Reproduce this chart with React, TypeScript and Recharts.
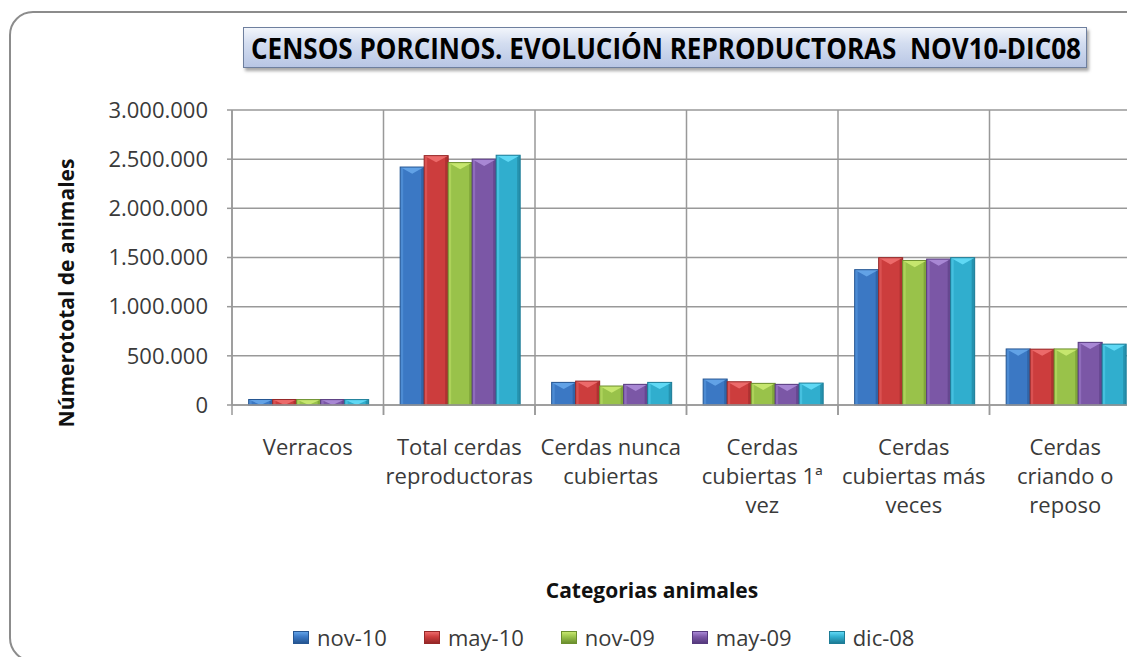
import { BarChart, Bar, XAxis, YAxis, CartesianGrid } from "recharts";

const categories = [
  "Verracos",
  "Total cerdas reproductoras",
  "Cerdas nunca cubiertas",
  "Cerdas cubiertas 1ª vez",
  "Cerdas cubiertas más veces",
  "Cerdas criando o reposo",
];

// wrapped tick labels, one array of lines per category
const categoryLines = [
  ["Verracos"],
  ["Total cerdas", "reproductoras"],
  ["Cerdas nunca", "cubiertas"],
  ["Cerdas", "cubiertas 1ª", "vez"],
  ["Cerdas", "cubiertas más", "veces"],
  ["Cerdas", "criando o", "reposo"],
];

const nov10 = [56000, 2420000, 230000, 264000, 1376000, 570000];
const may10 = [56000, 2536000, 243000, 236000, 1498000, 568000];
const nov09 = [55000, 2465000, 193000, 220000, 1470000, 570000];
const may09 = [55000, 2500000, 210000, 210000, 1484000, 637000];
const dic08 = [55000, 2540000, 230000, 223000, 1498000, 619000];

const yTicks = [0, 500000, 1000000, 1500000, 2000000, 2500000, 3000000];

const series = [
  { key: "nov-10", values: nov10, base: "#3b78c4", light: "#62a2e6", dark: "#265692" },
  { key: "may-10", values: may10, base: "#cc3d3d", light: "#ec6a6a", dark: "#962828" },
  { key: "nov-09", values: nov09, base: "#99c24a", light: "#c6e66e", dark: "#6c8f2e" },
  { key: "may-09", values: may09, base: "#7b57a6", light: "#a887d4", dark: "#563a7e" },
  { key: "dic-08", values: dic08, base: "#30aece", light: "#5fd8f4", dark: "#1d7c96" },
];

const data = categories.map((name, i) => {
  const row: Record<string, any> = { name, idx: i };
  series.forEach((s) => (row[s.key] = s.values[i]));
  return row;
});

const FONT = "'Open Sans', sans-serif";
const CHART_W = 1200;
const PLOT_LEFT = 232;
const PLOT_RIGHT = 1141;
const BAND = (PLOT_RIGHT - PLOT_LEFT) / categories.length;
const GRID = "#999999";

const fmt = (v: number) => String(v).replace(/\B(?=(\d{3})+(?!\d))/g, ".");

const makeShape = (s: typeof series[number]) => (props: any) => {
  const { x, y, width, height } = props;
  if (!height || height <= 0) return <g />;
  const tip = Math.min(width * 0.28, height);
  return (
    <g>
      <rect x={x} y={y} width={width} height={height} fill={s.base} />
      <rect x={x} y={y} width={3} height={height} fill={s.light} opacity={0.45} />
      <rect x={x + width - 3} y={y} width={3} height={height} fill={s.dark} opacity={0.55} />
      <polygon
        points={`${x},${y} ${x + width},${y} ${x + width / 2},${y + tip}`}
        fill={s.light}
      />
      <rect x={x} y={y} width={width} height={height} fill="none" stroke={s.dark} strokeWidth={1} />
    </g>
  );
};

const CategoryTick = (props: any) => {
  const { x, y, payload } = props;
  const lines = categoryLines[payload.index] || [payload.value];
  return (
    <g>
      <line x1={x - BAND / 2} y1={y} x2={x - BAND / 2} y2={y + 10} stroke={GRID} strokeWidth={1.5} />
      <line x1={x + BAND / 2} y1={y} x2={x + BAND / 2} y2={y + 10} stroke={GRID} strokeWidth={1.5} />
      {lines.map((l: string, i: number) => (
        <text
          key={i}
          x={x}
          y={y + 50 + i * 29}
          textAnchor="middle"
          fontFamily={FONT}
          fontSize={22}
          fill="#3a3a3a"
        >
          {l}
        </text>
      ))}
    </g>
  );
};

const Legend = () => (
  <div
    style={{
      position: "absolute",
      left: 293,
      top: 622,
      display: "flex",
      alignItems: "center",
      fontFamily: FONT,
      fontSize: 22,
      color: "#3a3a3a",
    }}
  >
    {series.map((s) => (
      <div key={s.key} style={{ display: "flex", alignItems: "center", marginRight: 37 }}>
        <div
          style={{
            width: 16,
            height: 13,
            marginRight: 8,
            background: `linear-gradient(to bottom, ${s.light} 0%, ${s.base} 45%, ${s.dark} 100%)`,
            border: `1px solid ${s.dark}`,
            boxSizing: "border-box",
          }}
        />
        <span>{s.key}</span>
      </div>
    ))}
  </div>
);

export default function App() {
  return (
    <div
      style={{
        position: "fixed",
        left: 0,
        top: 0,
        width: 1127,
        height: 657,
        overflow: "hidden",
        background: "#fff",
      }}
    >
      <div
        style={{
          position: "absolute",
          left: 9,
          top: 11,
          width: 1300,
          height: 651,
          border: "2px solid #8c8c8c",
          borderRadius: 24,
          boxSizing: "border-box",
        }}
      />
      <div style={{ position: "absolute", left: 0, top: 0 }}>
        <BarChart
          width={CHART_W}
          height={657}
          data={data}
          margin={{ top: 110, left: 62, right: CHART_W - PLOT_RIGHT, bottom: 192 }}
          barCategoryGap="11%"
          barGap={0}
        >
          <CartesianGrid
            stroke={GRID}
            strokeWidth={1.5}
            verticalCoordinatesGenerator={({ offset }: any) =>
              categories.map((_, i) => offset.left + (i * offset.width) / categories.length).concat([offset.left + offset.width])
            }
          />
          <XAxis
            dataKey="name"
            height={60}
            interval={0}
            tickLine={false}
            tickSize={0}
            tickMargin={0}
            axisLine={{ stroke: GRID, strokeWidth: 1.5 }}
            tick={<CategoryTick />}
            label={{
              content: () => (
                <text
                  x={652}
                  y={598}
                  textAnchor="middle"
                  fontFamily={FONT}
                  fontSize={21}
                  fontWeight="bold"
                  fill="#111"
                >
                  Categorias animales
                </text>
              ),
            }}
          />
          <YAxis
            width={170}
            domain={[0, 3000000]}
            ticks={yTicks}
            interval={0}
            tickFormatter={fmt}
            tickSize={5}
            tickMargin={19}
            tickLine={{ stroke: GRID, strokeWidth: 1.5 }}
            axisLine={{ stroke: GRID, strokeWidth: 1.5 }}
            tick={{ fontFamily: FONT, fontSize: 22, fill: "#3a3a3a" }}
            label={{
              content: () => (
                <text
                  x={0}
                  y={0}
                  transform="translate(74, 293) rotate(-90)"
                  textAnchor="middle"
                  fontFamily={FONT}
                  fontSize={21}
                  fontWeight="bold"
                  fill="#111"
                >
                  Númerototal de animales
                </text>
              ),
            }}
          />
          {series.map((s) => (
            <Bar
              key={s.key}
              dataKey={s.key}
              fill={s.base}
              isAnimationActive={false}
              shape={makeShape(s)}
            />
          ))}
        </BarChart>
      </div>
      <div
        style={{
          position: "absolute",
          left: 243,
          top: 27,
          width: 844,
          height: 41,
          boxSizing: "border-box",
          border: "1px solid #6e7f9e",
          background: "linear-gradient(to bottom, #f2f5fb 0%, #d3ddf0 40%, #b8c6e4 100%)",
          boxShadow: "2px 3px 3px rgba(0,0,0,0.35)",
        }}
      >
        <svg width={844} height={41} style={{ display: "block", overflow: "visible" }}>
          <g transform="translate(7, 31) scale(1, 1.3)">
            <text
              x={0}
              y={0}
              textLength={830}
              lengthAdjust="spacingAndGlyphs"
              fontFamily={FONT}
              fontWeight="bold"
              fontSize={22}
              fill="#000"
              style={{ whiteSpace: "pre" }}
            >
              CENSOS PORCINOS. EVOLUCIÓN REPRODUCTORAS  NOV10-DIC08
            </text>
          </g>
        </svg>
      </div>
      <Legend />
    </div>
  );
}
